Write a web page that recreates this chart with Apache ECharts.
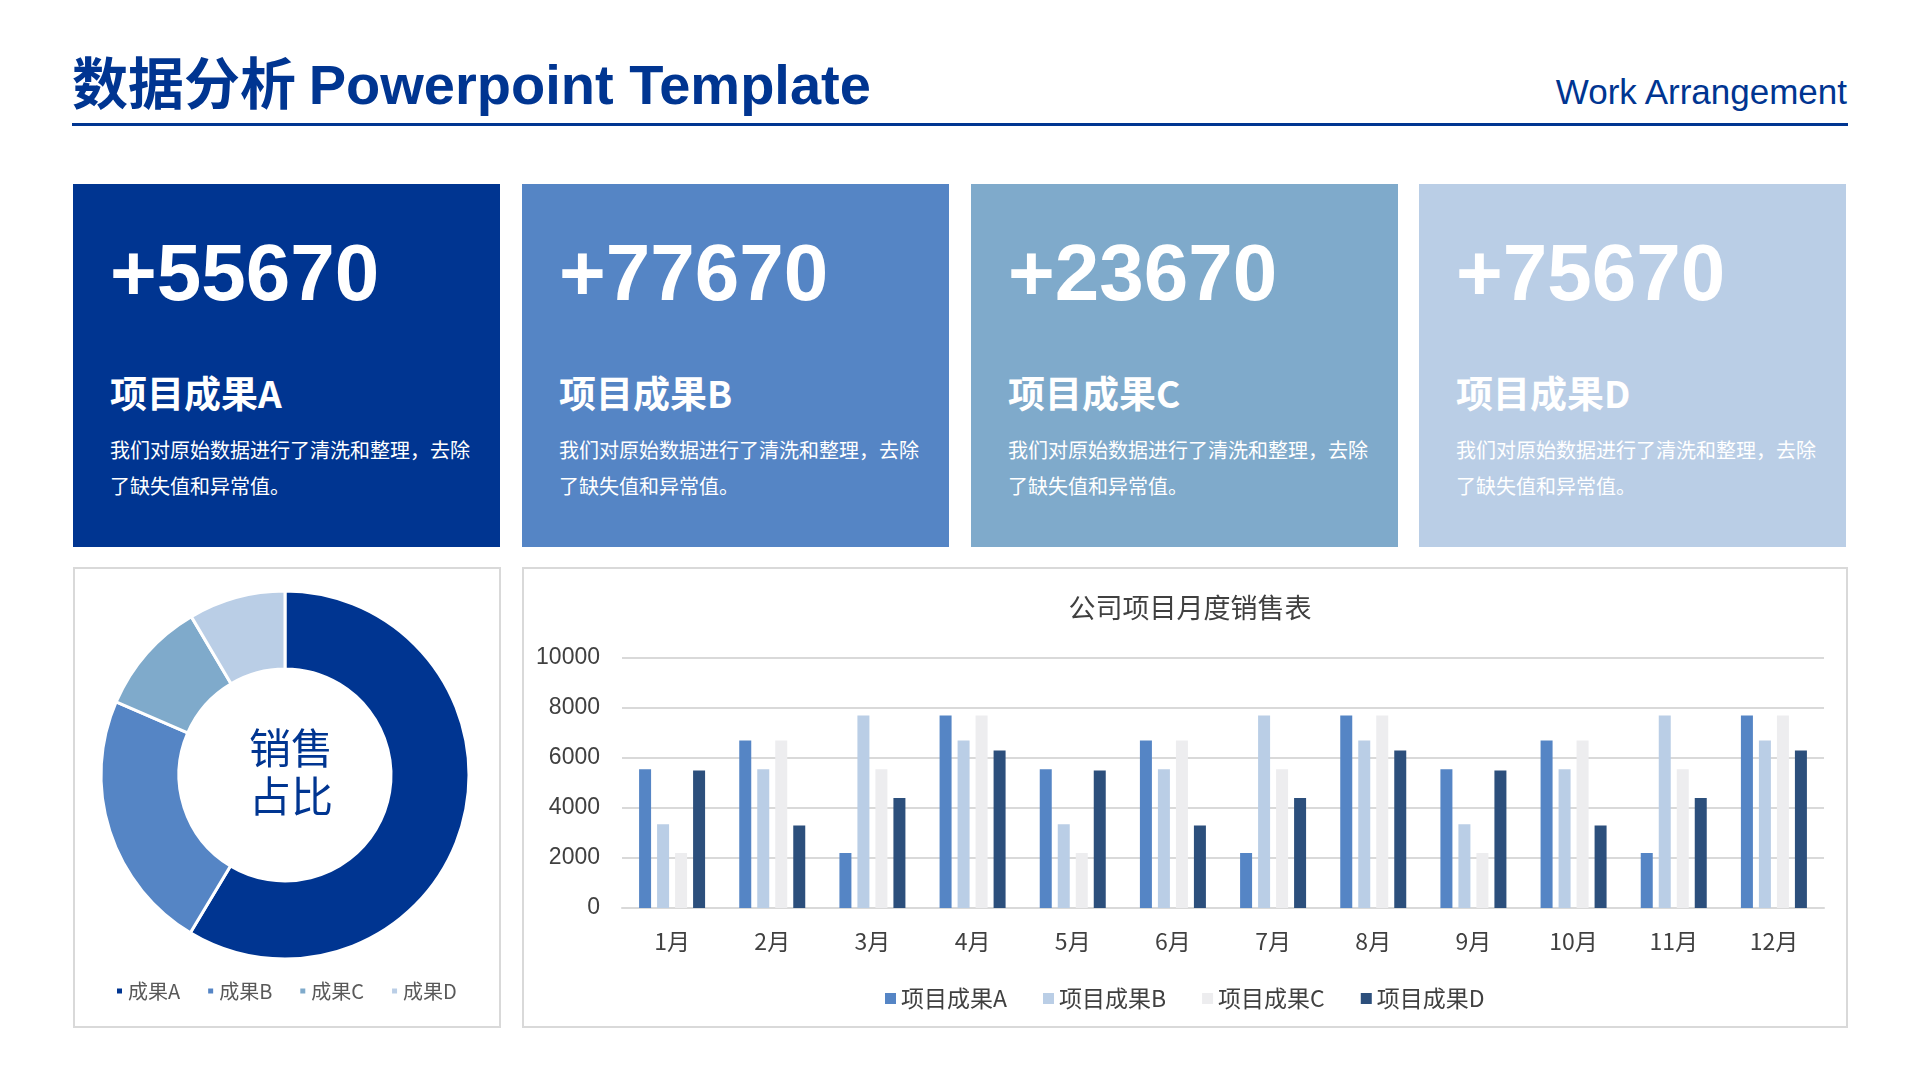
<!DOCTYPE html>
<html><head><meta charset="utf-8">
<script src="https://cdn.jsdelivr.net/npm/echarts@6/dist/echarts.min.js"></script>
<style>
body{margin:0;width:1920px;height:1080px;background:#fff;font-family:"Noto Sans CJK SC","Liberation Sans",sans-serif;position:relative;overflow:hidden}
.abs{position:absolute}
.card{position:absolute;top:184px;width:427px;height:363px;color:#fff}
.num{position:absolute;left:37px;font-family:"Liberation Sans",Arial,sans-serif;font-weight:bold;font-size:80px;line-height:80px;top:49px}
.ct{position:absolute;left:37px;top:188px;font-weight:bold;font-size:37px;line-height:40px}
.cd{position:absolute;left:37px;top:248px;font-size:20px;line-height:36px;width:366px}
.box{position:absolute;top:567px;height:461px;border:2px solid #d9d9d9;box-sizing:border-box}
#c{position:absolute;left:0;top:0;width:1920px;height:1080px}
</style></head><body>
<div class="abs" style="left:72px;top:42px;font-size:56px;font-weight:bold;color:#003591;line-height:76px">数据分析 <span style="font-family:'Liberation Sans',Arial,sans-serif">Powerpoint Template</span></div>
<div class="abs" style="right:73px;top:72px;font-size:35px;color:#003591;font-family:'Liberation Sans',Arial,sans-serif">Work Arrangement</div>
<div class="abs" style="left:72px;top:123px;width:1776px;height:3px;background:#003591"></div>
<div id="cards"></div>
<div class="box" style="left:73px;width:428px"></div>
<div class="box" style="left:522px;width:1326px"></div>
<div id="c"></div>
<script>
const cardNums=["+55670","+77670","+23670","+75670"];
const cardTitles=["项目成果A","项目成果B","项目成果C","项目成果D"];
const cardColors=["#003591","#5585C5","#7FAACB","#BACEE6"];
const cardLeft=[73,522,971,1419];
const cardDesc="我们对原始数据进行了清洗和整理，去除了缺失值和异常值。";
const months=["1月","2月","3月","4月","5月","6月","7月","8月","9月","10月","11月","12月"];
const seriesNames=["项目成果A","项目成果B","项目成果C","项目成果D"];
const valA=[5550,6700,2200,7700,5550,6700,2200,7700,5550,6700,2200,7700];
const valB=[3350,5550,7700,6700,3350,5550,7700,6700,3350,5550,7700,6700];
const valC=[2200,6700,5550,7700,2200,6700,5550,7700,2200,6700,5550,7700];
const valD=[5500,3300,4400,6300,5500,3300,4400,6300,5500,3300,4400,6300];
const barColors=["#5585C5","#BACEE6","#EDEDEF","#2C4F7C"];
const pieNames=["成果A","成果B","成果C","成果D"];
const pieVals=[58.6,22.9,10,8.5];
const pieColors=["#003591","#5585C5","#7FAACB","#BACEE6"];

let h="";
for(let i=0;i<4;i++){
 h+=`<div class="card" style="left:${cardLeft[i]}px;background:${cardColors[i]}"><div class="num">${cardNums[i]}</div><div class="ct">${cardTitles[i]}</div><div class="cd">${cardDesc}</div></div>`;
}
document.getElementById('cards').innerHTML=h;

const ch=echarts.init(document.getElementById('c'));
const txt='#404040';
ch.setOption({
 animation:false,
 title:{text:'公司项目月度销售表',left:1185,top:589,textAlign:'center',textStyle:{fontSize:27,fontWeight:'normal',color:'#404040',fontFamily:'Noto Sans CJK SC'}},
 legend:[{data:seriesNames,left:880,top:982,itemWidth:11,itemHeight:11,itemGap:36,icon:'rect',textStyle:{fontSize:23,color:txt,fontFamily:'Noto Sans CJK SC'}},
  {data:pieNames,left:110,top:976,itemWidth:7,itemHeight:7,itemGap:26,icon:'rect',textStyle:{fontSize:20,color:'#595959',fontFamily:'Noto Sans CJK SC'}}],
 grid:{left:622,width:1202,top:658,height:250},
 xAxis:{type:'category',data:months,axisLine:{lineStyle:{color:'#d9d9d9',width:2}},axisTick:{show:false},axisLabel:{fontSize:23,color:txt,margin:22,fontFamily:'Noto Sans CJK SC'}},
 yAxis:{type:'value',min:0,max:10000,interval:2000,axisLine:{show:false},axisTick:{show:false},splitLine:{lineStyle:{color:'#d9d9d9',width:2}},axisLabel:{fontSize:23,color:txt,margin:22,fontFamily:'Liberation Sans',formatter:v=>String(v)}},
 series:[
  ...[valA,valB,valC,valD].map((d,i)=>({type:'bar',name:seriesNames[i],data:d,barWidth:12,barGap:'50%',itemStyle:{color:barColors[i]}})),
  {type:'pie',center:[285,775],radius:[106,184],startAngle:90,clockwise:true,label:{show:false},labelLine:{show:false},
   itemStyle:{borderColor:'#fff',borderWidth:3},
   data:pieNames.map((n,i)=>({name:n,value:pieVals[i],itemStyle:{color:pieColors[i]}}))}
 ],
 graphic:[{type:'text',left:249,top:724,style:{text:'销售\n占比',fontSize:42,lineHeight:48,fill:'#003591',align:'center',fontFamily:'Noto Sans CJK SC'}}]
});
</script></body></html>
